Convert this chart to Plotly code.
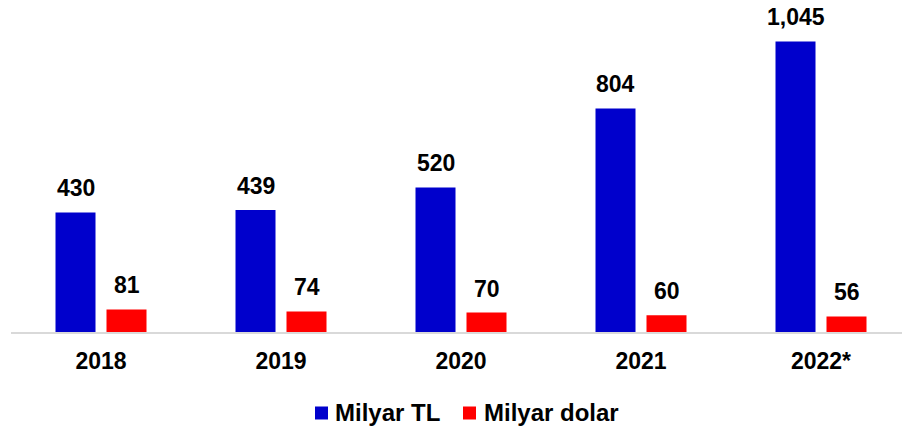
import plotly.graph_objects as go

years = ["2018", "2019", "2020", "2021", "2022*"]
milyar_tl = [430, 439, 520, 804, 1045]
milyar_dolar = [81, 74, 70, 60, 56]
series_names = ["Milyar TL", "Milyar dolar"]
series_colors = ["#0000CC", "#FF0000"]

FONT = "Liberation Sans, Arial, sans-serif"
W, H = 902, 430
L, T = 11, 20
BOTTOM = 332          # plot bottom in pixels
B = H - BOTTOM
PW, PH = W - L, BOTTOM - T
BW = 40 / 180

def px(x):
    return (x - L) / PW

def py(y):
    return (BOTTOM - y) / PH

fig = go.Figure()
fig.add_trace(go.Bar(x=years, y=milyar_tl, name=series_names[0], marker_color=series_colors[0],
                     marker_line_width=0, width=BW, offset=-45.5 / 180, showlegend=False,
                     hoverinfo="skip"))
fig.add_trace(go.Bar(x=years, y=milyar_dolar, name=series_names[1], marker_color=series_colors[1],
                     marker_line_width=0, width=BW, offset=(45.5 - 40) / 180, showlegend=False,
                     hoverinfo="skip"))

for i, (a, b) in enumerate(zip(milyar_tl, milyar_dolar)):
    for v, off in ((a, -25.5 / 180), (b, 25.5 / 180)):
        fig.add_annotation(x=i + off, y=v, text=f"{v:,}", showarrow=False,
                           yanchor="middle", yshift=24,
                           font=dict(family=FONT, size=23, color="black", weight="bold"))

# custom legend
for name, color, sx, tx in zip(series_names, series_colors, (315, 463), (333, 482)):
    fig.add_shape(type="rect", xref="paper", yref="paper",
                  x0=px(sx), x1=px(sx + 13), y0=py(406.5), y1=py(419.5),
                  fillcolor=color, line_width=0)
    fig.add_annotation(xref="paper", yref="paper", x=px(tx), y=py(412),
                       xanchor="left", yanchor="middle", text=name, showarrow=False,
                       font=dict(family=FONT, size=24, color="black", weight="bold"))

fig.update_layout(
    width=W, height=H,
    margin=dict(l=L, r=0, t=T, b=B),
    plot_bgcolor="white", paper_bgcolor="white",
    barmode="overlay",
    showlegend=False,
    xaxis=dict(range=[-0.5, -0.5 + PW / 180], showline=True, linecolor="#D9D9D9", linewidth=2,
               showgrid=False, ticks="", ticklabelstandoff=7,
               tickfont=dict(family=FONT, size=23, color="black", weight="bold")),
    yaxis=dict(range=[0, PH / 0.278], visible=False, showgrid=False, zeroline=False),
)

fig.write_html("out.html", config={"displayModeBar": False},
               post_script="document.body.style.margin='0';")
